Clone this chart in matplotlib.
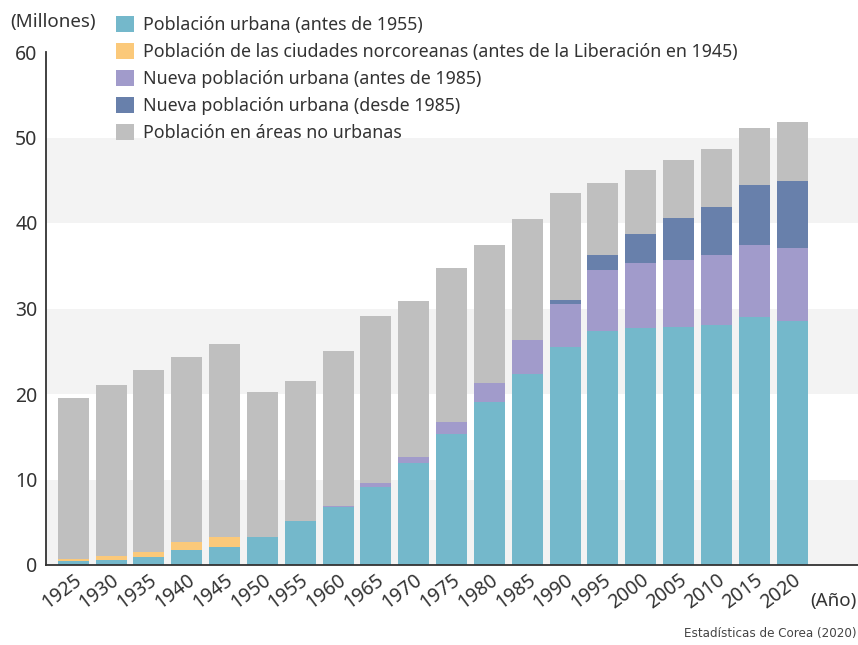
import numpy as np
import matplotlib
matplotlib.use('Agg')
import matplotlib.pyplot as plt
from matplotlib.transforms import ScaledTranslation

plt.rcParams['font.family'] = ['Noto Sans', 'DejaVu Sans']

years = ['1925', '1930', '1935', '1940', '1945', '1950', '1955', '1960', '1965', '1970',
         '1975', '1980', '1985', '1990', '1995', '2000', '2005', '2010', '2015', '2020']

# millones de personas
urbana_1955 = [0.45, 0.6, 0.95, 1.75, 2.1, 3.27, 5.15, 6.8, 9.1, 11.9,
               15.3, 19.1, 22.3, 25.5, 27.4, 27.7, 27.8, 28.1, 29.0, 28.5]
norcoreanas = [0.25, 0.45, 0.6, 0.95, 1.15, 0, 0, 0, 0, 0,
               0, 0, 0, 0, 0, 0, 0, 0, 0, 0]
nueva_antes = [0, 0, 0, 0, 0, 0, 0, 0.1, 0.5, 0.7,
               1.4, 2.2, 4.0, 5.0, 7.1, 7.6, 7.9, 8.15, 8.4, 8.6]
nueva_desde = [0, 0, 0, 0, 0, 0, 0, 0, 0, 0,
               0, 0, 0, 0.5, 1.8, 3.4, 4.9, 5.65, 7.0, 7.8]
total = [19.5, 21.05, 22.8, 24.3, 25.85, 20.2, 21.5, 25.0, 29.1, 30.9,
         34.7, 37.4, 40.5, 43.5, 44.7, 46.2, 47.4, 48.65, 51.1, 51.8]

labels = ['Población urbana (antes de 1955)',
          'Población de las ciudades norcoreanas (antes de la Liberación en 1945)',
          'Nueva población urbana (antes de 1985)',
          'Nueva población urbana (desde 1985)',
          'Población en áreas no urbanas']
colors = ['#74b8cb', '#fbc97a', '#a19bcb', '#6880ab', '#bfbfbf']

u = np.array(urbana_1955)
n = np.array(norcoreanas)
a = np.array(nueva_antes)
d = np.array(nueva_desde)
rural = np.array(total) - u - n - a - d
series = [u, n, a, d, rural]

fig = plt.figure(figsize=(8.58, 6.45), dpi=100)
ax = fig.add_axes([46/858, 1-565/645, 1-46/858, (565-52)/645])

x = np.arange(len(years))
for lo in (0, 20, 40):
    ax.axhspan(lo, lo+10, color='#f3f3f3', zorder=0, lw=0)

bottom = np.zeros(len(years))
handles = []
for vals, col, lab in zip(series, colors, labels):
    h = ax.bar(x, vals, 0.82, bottom=bottom, color=col, label=lab, zorder=2, lw=0)
    handles.append(h)
    bottom = bottom + vals

ax.set_xlim(-0.72, 20.74)
ax.set_ylim(0, 60)
ax.set_yticks([0, 10, 20, 30, 40, 50, 60])
ax.tick_params(axis='y', length=0, labelsize=14, colors='#333333', pad=6)
ax.set_xticks(x)
ax.set_xticklabels(years, rotation=37, ha='right', rotation_mode='anchor', fontsize=14,
                   color='#333333')
off = ScaledTranslation(21/100, -5/100, fig.dpi_scale_trans)
for lbl in ax.get_xticklabels():
    lbl.set_transform(lbl.get_transform() + off)
ax.tick_params(axis='x', direction='in', length=7, width=1.5, color='#333333')
for s in ('top', 'right'):
    ax.spines[s].set_visible(False)
ax.spines['left'].set_color('#333333')
ax.spines['bottom'].set_color('#333333')
ax.spines['left'].set_linewidth(1.3)
ax.spines['bottom'].set_linewidth(1.3)

ax.legend(handles=handles, loc='upper left', bbox_to_anchor=(116/858, 1-16/645),
          bbox_transform=fig.transFigure, frameon=False, fontsize=12.8,
          handlelength=1.0, handleheight=1.0, handletextpad=0.5, labelspacing=0.5,
          borderpad=0, borderaxespad=0, labelcolor='#333333')

fig.text(10/858, 1-22/645, '(Millones)', fontsize=13.5, va='center', color='#333333')
fig.text(857/858, 1-601/645, '(Año)', fontsize=13.5, va='center', ha='right', color='#333333')
fig.text(857/858, 1-634/645, 'Estadísticas de Corea (2020)', fontsize=9.5, ha='right',
         va='center', color='#444444', family='DejaVu Sans', stretch='condensed')

fig.savefig('out.png', dpi=100)
